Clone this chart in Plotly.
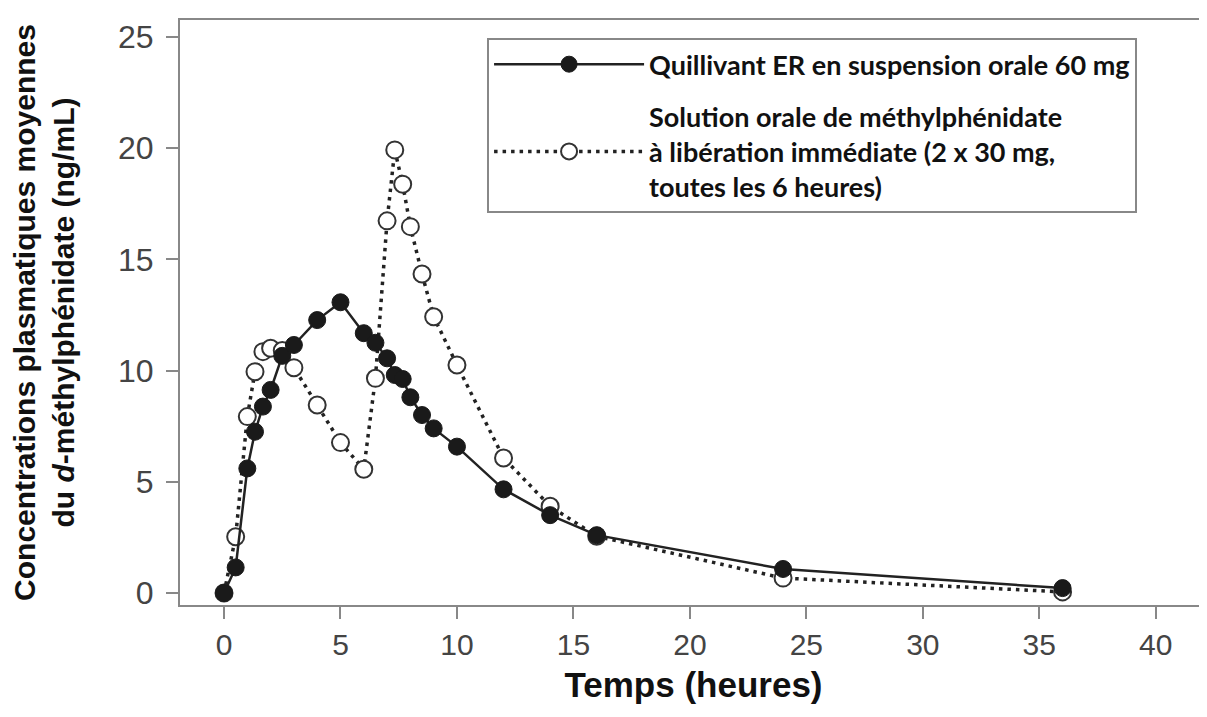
import plotly.graph_objects as go

# Quillivant ER 60 mg (filled circles)
er_time = [0, 0.5, 1, 1.33, 1.67, 2, 2.5, 3, 4, 5, 6, 6.5, 7, 7.33, 7.67, 8, 8.5, 9, 10, 12, 14, 16, 24, 36]
er_conc = [0, 1.15, 5.6, 7.25, 8.38, 9.13, 10.66, 11.15, 12.27, 13.07, 11.68, 11.25, 10.55, 9.8, 9.62, 8.8, 8.0, 7.4, 6.58, 4.66, 3.5, 2.6, 1.08, 0.22]

# Immediate-release methylphenidate 2 x 30 mg (open circles)
ir_time = [0, 0.5, 1, 1.33, 1.67, 2, 2.5, 3, 4, 5, 6, 6.5, 7, 7.33, 7.67, 8, 8.5, 9, 10, 12, 14, 16, 24, 36]
ir_conc = [0, 2.53, 7.93, 9.95, 10.85, 11.0, 10.9, 10.13, 8.45, 6.76, 5.56, 9.65, 16.73, 19.92, 18.38, 16.47, 14.34, 12.42, 10.25, 6.07, 3.9, 2.55, 0.67, 0.05]

er_name = "Quillivant ER en suspension orale 60 mg"
ir_name = "Solution orale de méthylphénidate<br>à libération immédiate (2 x 30 mg,<br>toutes les 6 heures)"

x_ticks = [0, 5, 10, 15, 20, 25, 30, 35, 40]
y_ticks = [0, 5, 10, 15, 20, 25]

fig = go.Figure()
fig.add_trace(go.Scatter(
    x=ir_time, y=ir_conc, name=ir_name, mode="lines+markers", legendgroup="ir", legendrank=2,
    line=dict(color="#222222", width=3.5, dash="3.5px,5px"),
    marker=dict(symbol="circle", size=17, color="white",
                line=dict(color="#333333", width=2)),
))
fig.add_trace(go.Scatter(
    x=er_time, y=er_conc, name=er_name, mode="lines+markers", legendgroup="er", legendrank=1,
    line=dict(color="#222222", width=2.5),
    marker=dict(symbol="circle", size=17, color="#1a1a1a",
                line=dict(color="#1a1a1a", width=1)),
))

fig.update_layout(
    width=1199, height=709,
    margin=dict(l=172, r=0, t=12, b=112, autoexpand=False),
    paper_bgcolor="white", plot_bgcolor="white",
    font=dict(family="Liberation Sans, Arial, sans-serif", color="#111111"),
    legend=dict(
        x=0.299, y=0.969, xanchor="left", yanchor="top",
        bgcolor="white", bordercolor="#888888", borderwidth=2,
        font=dict(family="Lato, Open Sans, sans-serif", size=27, color="#111111", weight="bold"),
        traceorder="grouped", tracegroupgap=14, itemwidth=150,
        itemsizing="trace",
    ),
    xaxis=dict(
        range=[-1.89, 42.2], tickvals=x_ticks, ticktext=[str(v) for v in x_ticks],
        showgrid=False, zeroline=False,
        showline=True, linecolor="#888888", linewidth=2, mirror=True,
        ticks="outside", ticklen=12, tickwidth=1.5, tickcolor="#888888",
        tickfont=dict(family="Liberation Sans Narrow, Arial Narrow, Liberation Sans, sans-serif", size=30, color="#444444"),
        title=dict(text="<b>Temps (heures)</b>", font=dict(family="Liberation Sans, Arial, sans-serif", size=35, color="#111111"), standoff=12),
    ),
    yaxis=dict(
        range=[-0.54, 25.76], tickvals=y_ticks, ticktext=[str(v) for v in y_ticks],
        showgrid=False, zeroline=False,
        showline=True, linecolor="#888888", linewidth=2,
        ticks="outside", ticklen=12, tickwidth=1.5, tickcolor="#888888",
        ticklabelstandoff=6,
        tickfont=dict(family="Liberation Sans, Arial, sans-serif", size=32, color="#444444"),
        title=dict(text="<b>Concentrations plasmatiques moyennes<br>du <i>d</i>-méthylphénidate (ng/mL)</b>",
                   font=dict(family="Liberation Sans, Arial, sans-serif", size=30, color="#111111"), standoff=38),
    ),
    showlegend=True,
)

fig.write_html("out.html")
